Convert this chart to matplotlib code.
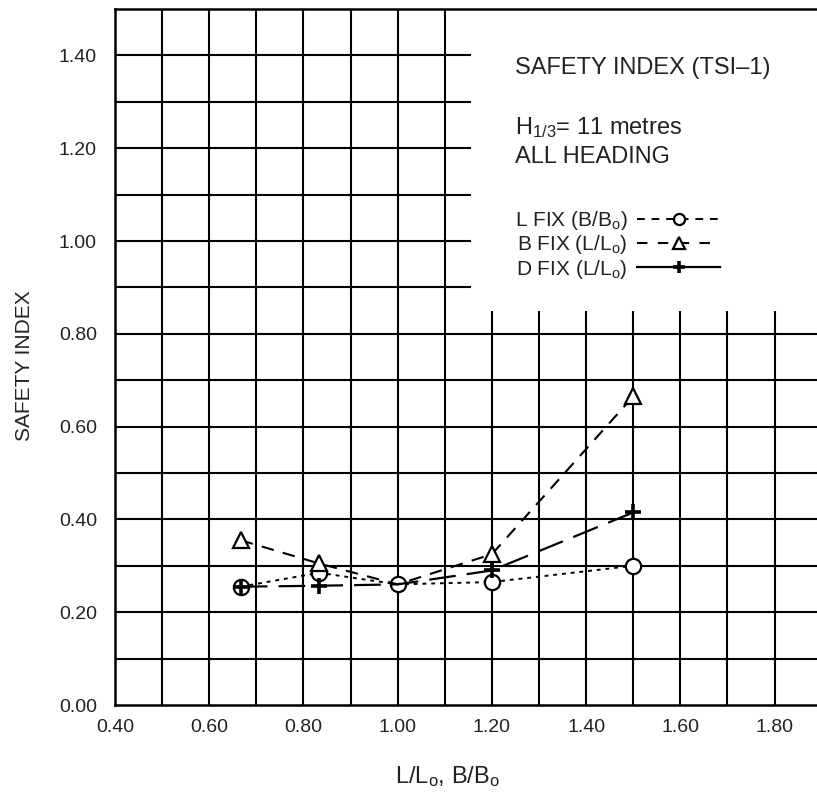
import matplotlib
matplotlib.use("Agg")
import matplotlib.pyplot as plt
import numpy as np

plt.rcParams['font.family'] = ['Liberation Sans', 'DejaVu Sans']
plt.rcParams['mathtext.fontset'] = 'custom'
plt.rcParams['mathtext.rm'] = 'Liberation Sans'
plt.rcParams['mathtext.it'] = 'Liberation Sans'

# data
ratio = [0.667, 0.833, 1.00, 1.20, 1.50]
l_fix = [0.255, 0.285, 0.26, 0.265, 0.30]
b_fix = [0.355, 0.305, 0.26, 0.325, 0.665]
d_fix = [0.255, 0.257, 0.26, 0.29, 0.415]

x_ticks = [0.40, 0.60, 0.80, 1.00, 1.20, 1.40, 1.60, 1.80]
y_ticks = [0.00, 0.20, 0.40, 0.60, 0.80, 1.00, 1.20, 1.40]

labels = [r'L FIX (B/B$_\mathrm{o}$)', r'B FIX (L/L$_\mathrm{o}$)', r'D FIX (L/L$_\mathrm{o}$)']
INK = '#222222'

fig = plt.figure(figsize=(8.17, 7.98), dpi=100)
ax = fig.add_axes([115 / 817, 93 / 798, 702 / 817, 696 / 798])
ax.set_xlim(0.40, 1.89)
ax.set_ylim(0.0, 1.50)

# hand-drawn style grid: upper right block left open for the notes
GRID = dict(color='black', lw=1.5, zorder=1)
full_v = np.round(np.arange(0.5, 1.11, 0.1), 2)
short_v = np.round(np.arange(1.2, 1.81, 0.1), 2)
full_h = np.round(np.arange(0.1, 0.81, 0.1), 2)
short_h = np.round(np.arange(0.9, 1.41, 0.1), 2)
ax.vlines(full_v, 0, 1.5, **GRID)
ax.vlines(short_v, 0, 0.85, **GRID)
ax.hlines(full_h, 0.4, 1.89, **GRID)
ax.hlines(short_h, 0.4, 1.155, **GRID)

for side in ['left', 'bottom', 'top']:
    ax.spines[side].set_linewidth(1.8)
ax.spines['right'].set_visible(False)

ax.plot(ratio, l_fix, color='black', lw=1.4, ls=(0, (2, 2.5)),
        marker='o', ms=11, mfc='white', mec='black', mew=1.6, zorder=3,
        label=labels[0])
ax.plot(ratio, b_fix, color='black', lw=1.5, ls=(0, (6, 4.5)),
        marker='^', ms=11, mfc='white', mec='black', mew=1.6, zorder=4,
        markevery=[0, 1, 3, 4], label=labels[1])
ax.plot(ratio, d_fix, color='black', lw=1.6, ls=(0, (12, 5)),
        marker='+', ms=11, mec='black', mew=2.6, zorder=5,
        markevery=[0, 1, 3, 4], label=labels[2])

ax.set_xticks(x_ticks)
ax.set_xticklabels([f'{v:.2f}' for v in x_ticks])
ax.set_yticks(y_ticks)
ax.set_yticklabels([f'{v:.2f}' for v in y_ticks])
ax.tick_params(length=0, labelsize=14, colors=INK)
ax.tick_params(axis='y', pad=13)
ax.tick_params(axis='x', pad=10)

ax.set_xlabel(r'L/L$_\mathrm{o}$, B/B$_\mathrm{o}$', fontsize=17, color=INK)
ax.xaxis.set_label_coords(0.473, -0.085)
ax.set_ylabel('SAFETY INDEX', fontsize=15, color=INK)
ax.yaxis.set_label_coords(-0.115, 0.488)

ax.text(1.249, 1.372, 'SAFETY INDEX (TSI–1)', fontsize=17, va='center', ha='left', color=INK)
ax.text(1.249, 1.245, r'H$_{1/3}$= 11 metres', fontsize=17, va='center', ha='left', color=INK)
ax.text(1.249, 1.180, 'ALL HEADING', fontsize=17, va='center', ha='left', color=INK)

leg = ax.legend(loc='upper left', bbox_to_anchor=(1.249, 1.068), bbox_transform=ax.transData,
                frameon=False, markerfirst=False, fontsize=15, handlelength=4.0,
                handletextpad=0.45, labelspacing=0.05, borderpad=0, borderaxespad=0)
for t in leg.get_texts():
    t.set_color(INK)
# the key uses smaller symbols and its own dash spacing
handle_styles = [(0, (4, 3.5)), (0, (5, 5)), '-']
handle_ms = [8, 8, 9]
for h, style, ms in zip(leg.legend_handles, handle_styles, handle_ms):
    h.set_linestyle(style)
    h.set_markersize(ms)

fig.savefig('out.png', dpi=100)
